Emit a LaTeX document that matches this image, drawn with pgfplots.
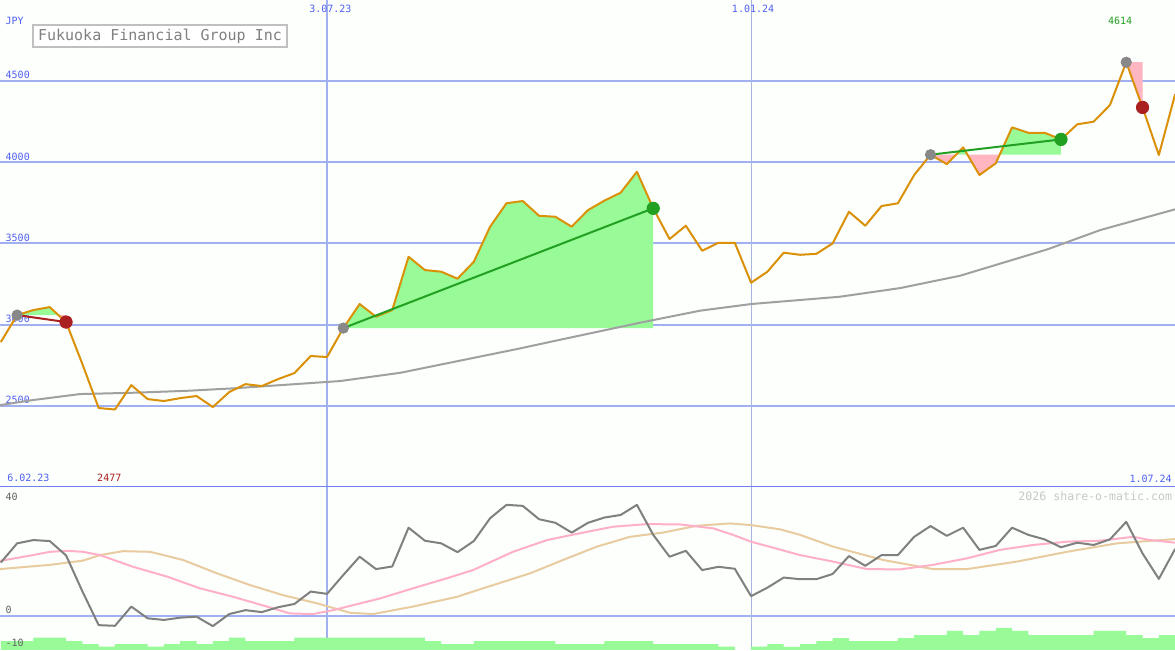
\documentclass[border=0pt]{standalone}
\usepackage{fontspec}
\setmonofont{DejaVu Sans Mono}
\usepackage{pgfplots}
\pgfplotsset{compat=1.18}
\definecolor{bgc}{RGB}{252,255,252}
\definecolor{gridc}{RGB}{160,176,240}
\definecolor{gridd}{RGB}{170,180,225}
\definecolor{sepc}{RGB}{112,128,240}
\definecolor{labc}{RGB}{80,96,240}
\definecolor{pricec}{RGB}{218,145,8}
\definecolor{mac}{RGB}{160,160,160}
\definecolor{gfill}{RGB}{152,251,152}
\definecolor{pfill}{RGB}{255,182,193}
\definecolor{gline}{RGB}{34,160,34}
\definecolor{rline}{RGB}{170,32,32}
\definecolor{dotg}{RGB}{136,136,136}
\definecolor{oscc}{RGB}{128,128,128}
\definecolor{pinkc}{RGB}{255,176,200}
\definecolor{tanc}{RGB}{232,204,160}
\definecolor{titc}{RGB}{128,128,128}
\definecolor{boxc}{RGB}{192,192,192}
\definecolor{wmc}{RGB}{200,200,200}
\definecolor{lowlab}{RGB}{96,96,96}
\newcommand\tf{\ttfamily\fontsize{5}{6}\selectfont}
\tikzset{lab/.style={inner sep=0pt, outer sep=0pt, font=\tf}}
\pgfplotsset{
  common/.style={
    scale only axis, width=587.5pt,
    xmin=-0.05, xmax=71.99,
    axis line style={draw=none}, tick style={draw=none},
    xticklabels={}, yticklabels={}, extra x tick labels={},
    axis background/.style={fill=bgc},
    xtick={20}, extra x ticks={46},
    extra x tick style={grid=major, grid style={gridd, line width=0.5pt}},
    grid=major, grid style={gridc, line width=1pt},
  }
}
\begin{document}
\begin{tikzpicture}
% ---------------- main price panel ----------------
\begin{axis}[common, at={(0,0)}, anchor=south west, height=243.5pt,
  ymin=2000, ymax=4997, ytick={2500,3000,3500,4000,4500}]
\node[lab, anchor=west, text=labc] at (axis cs:0.3,4867) {JPY};
\node[lab, anchor=west, text=labc] at (axis cs:0.3,4534) {4500};
\node[lab, anchor=west, text=labc] at (axis cs:0.3,4034) {4000};
\node[lab, anchor=west, text=labc] at (axis cs:0.3,3534) {3500};
\node[lab, anchor=west, text=labc] at (axis cs:0.3,3034) {3000};
\node[lab, anchor=west, text=labc] at (axis cs:0.3,2534) {2500};
\node[lab, text=labc] at (axis cs:20.21,4943) {3.07.23};
\node[lab, text=labc] at (axis cs:46.12,4943) {1.01.24};
\node[lab, text=gline] at (axis cs:68.62,4867) {4614};
\node[lab, text=labc] at (axis cs:1.69,2055) {6.02.23};
\node[lab, text=rline] at (axis cs:6.65,2055) {2477};
\node[lab, anchor=east, text=labc] at (axis cs:71.79,2051) {1.07.24};
\node[draw=boxc, line width=1pt, fill=white, minimum width=127pt, minimum height=11pt, inner sep=0pt,
  text=titc, font=\ttfamily\fontsize{7.5}{9}\selectfont] at (axis cs:9.76,4775) {Fukuoka Financial Group Inc};
% trade fills
\addplot[fill=gfill, draw=none] coordinates {(1,3058)(2,3089)(3,3107)(3.53,3058)};
\addplot[fill=pfill, draw=none] coordinates {(3.53,3058)(4,3015)(4,3058)};
\addplot[fill=gfill, draw=none] coordinates {(21,2978)(22,3126)(23,3048)(24,3089)(25,3417)(26,3335)(27,3325)(28,3282)(29,3386)(30,3602)(31,3746)(32,3760)(33,3669)(34,3663)(35,3602)(36,3704)(37,3762)(38,3811)(39,3940)(40,3715)(40,2978)};
\addplot[fill=pfill, draw=none] coordinates {(57,4045)(58,3987)(58.56,4045)};
\addplot[fill=gfill, draw=none] coordinates {(58.56,4045)(59,4090)(59.26,4045)};
\addplot[fill=pfill, draw=none] coordinates {(59.26,4045)(60,3920)(61,3992)(61.24,4045)};
\addplot[fill=gfill, draw=none] coordinates {(61.24,4045)(62,4213)(63,4180)(64,4180)(65,4139)(65,4045)};
\addplot[fill=pfill, draw=none] coordinates {(69,4614)(70,4336)(70,4614)};
% moving average
\addplot[mac, line width=1pt] coordinates {(-0.05,2504)(1.97,2535)(4.86,2572)(8.1,2580)(11.42,2592)(14.24,2607)(20.8,2652)(24.5,2703)(31.65,2849)(34.47,2910)(39.19,3011)(41.03,3048)(42.87,3085)(46.0,3126)(51.45,3171)(55.13,3224)(58.81,3300)(64.15,3462)(67.4,3581)(72.0,3709)};
% price
\addplot[pricec, line width=1pt, line join=round] coordinates {(0,2892)(1,3058)(2,3089)(3,3107)(4,3015)(5,2757)(6,2486)(7,2477)(8,2627)(9,2541)(10,2529)(11,2547)(12,2560)(13,2492)(14,2584)(15,2633)(16,2621)(17,2664)(18,2701)(19,2806)(20,2800)(21,2978)(22,3126)(23,3048)(24,3089)(25,3417)(26,3335)(27,3325)(28,3282)(29,3386)(30,3602)(31,3746)(32,3760)(33,3669)(34,3663)(35,3602)(36,3704)(37,3762)(38,3811)(39,3940)(40,3715)(41,3526)(42,3608)(43,3454)(44,3503)(45,3503)(46,3257)(47,3325)(48,3442)(49,3429)(50,3435)(51,3499)(52,3694)(53,3608)(54,3729)(55,3746)(56,3920)(57,4045)(58,3987)(59,4090)(60,3920)(61,3992)(62,4213)(63,4180)(64,4180)(65,4139)(66,4232)(67,4248)(68,4350)(69,4614)(70,4336)(71,4043)(72,4418)};
% trade lines
\addplot[rline, line width=1pt] coordinates {(1,3058)(4,3015)};
\addplot[gline, line width=1pt] coordinates {(21,2978)(40,3715)};
\addplot[gline, line width=1pt] coordinates {(57,4045)(65,4139)};
% dots
\addplot[color=dotg, only marks, mark=*, mark size=2.6pt] coordinates {(1,3058)(21,2978)(57,4045)(69,4614)};
\addplot[color=gline, only marks, mark=*, mark size=3.1pt] coordinates {(40,3715)(65,4139)};
\addplot[color=rline, only marks, mark=*, mark size=3.1pt] coordinates {(4,3015)(70,4336)};
\draw[sepc, line width=1pt] (axis cs:-0.05,2001.4) -- (axis cs:71.99,2001.4);
\end{axis}
% ---------------- lower indicator panel ----------------
\begin{axis}[common, at={(0,0)}, anchor=north west, height=81.5pt,
  ymin=-10.52, ymax=39.48, ytick={0}]
% volume
\addplot[const plot, fill=gfill, draw=none] coordinates {(0,-12)(0,-7.76)(1,-7.76)(2,-6.75)(3,-6.75)(4,-7.76)(5,-8.68)(6,-9.51)(7,-8.68)(8,-8.68)(9,-9.51)(10,-8.68)(11,-7.76)(12,-8.68)(13,-7.76)(14,-6.75)(15,-7.76)(16,-7.76)(17,-7.76)(18,-6.75)(19,-6.75)(20,-6.75)(21,-6.75)(22,-6.75)(23,-6.75)(24,-6.75)(25,-6.75)(26,-7.76)(27,-8.68)(28,-8.68)(29,-7.76)(30,-7.76)(31,-7.76)(32,-7.76)(33,-7.76)(34,-8.68)(35,-8.68)(36,-8.68)(37,-7.76)(38,-7.76)(39,-7.76)(40,-8.68)(41,-8.68)(42,-8.68)(43,-8.68)(44,-9.51)(45,-12)(46,-9.51)(47,-8.68)(48,-9.60)(49,-8.68)(50,-7.76)(51,-6.84)(52,-7.76)(53,-7.76)(54,-7.76)(55,-6.84)(56,-5.92)(57,-5.92)(58,-4.69)(59,-5.92)(60,-4.69)(61,-3.77)(62,-4.69)(63,-5.92)(64,-5.92)(65,-5.92)(66,-5.92)(67,-4.69)(68,-4.69)(69,-5.92)(70,-6.84)(71,-5.92)(72,-12)};
\node[lab, anchor=west, text=lowlab] at (axis cs:0.3,36.6) {40};
\node[lab, anchor=west, text=lowlab] at (axis cs:0.3,1.75) {0};
\node[lab, anchor=west, text=lowlab] at (axis cs:0.3,-8.28) {-10};
\node[lab, anchor=east, text=wmc, font=\ttfamily\fontsize{5.8}{7}\selectfont] at (axis cs:71.81,36.8) {2026 share-o-matic.com};
% slow signal (tan)
\addplot[tanc, line width=1pt] coordinates {(-0.05,14.3)(3.02,15.6)(5.04,16.9)(6.08,18.6)(7.49,19.8)(9.15,19.6)(11.17,17.1)(13.25,13.0)(15.28,9.4)(17.30,6.3)(19.39,3.8)(21.41,0.9)(22.82,0.5)(25.27,2.8)(27.97,5.8)(29.38,8.1)(32.45,13.0)(34.47,17.1)(36.55,21.2)(38.58,24.2)(40.60,25.5)(42.69,27.6)(44.71,28.3)(46.00,27.8)(47.77,26.5)(49.00,24.8)(51.02,21.2)(54.09,17.1)(57.15,14.3)(59.24,14.3)(62.30,16.6)(65.37,19.6)(68.44,22.2)(71.99,23.5)};
% fast signal (pink)
\addplot[pinkc, line width=1pt] coordinates {(-0.05,16.8)(1.97,18.6)(3.02,19.6)(4.06,19.9)(5.04,19.6)(6.08,18.6)(8.11,15.0)(10.19,12.0)(12.21,8.4)(14.24,5.8)(16.32,2.8)(17.73,0.7)(19.14,0.5)(20.37,1.7)(22.45,4.3)(23.25,5.3)(25.27,8.4)(27.36,11.5)(28.95,14.0)(31.40,19.6)(33.49,23.2)(35.51,25.3)(37.54,27.3)(39.62,28.1)(41.64,28.0)(43.67,26.8)(44.89,24.8)(46.00,22.7)(49.00,18.6)(51.02,16.6)(53.11,14.3)(55.13,14.2)(57.15,15.6)(59.24,17.6)(61.26,20.2)(63.29,21.7)(65.37,22.7)(67.39,23.0)(69.42,24.2)(70.46,23.2)(71.99,22.4)};
% oscillator
\addplot[oscc, line width=1pt, line join=round] coordinates {(0,16.3)(1,22.2)(2,23.2)(3,22.9)(4,18.5)(5,7.5)(6,-2.9)(7,-3.1)(8,2.8)(9,-0.8)(10,-1.3)(11,-0.6)(12,-0.3)(13,-3.2)(14,0.5)(15,1.7)(16,1.1)(17,2.6)(18,3.6)(19,7.4)(20,6.7)(21,12.5)(22,18.1)(23,14.3)(24,15.1)(25,27.0)(26,23.0)(27,22.2)(28,19.5)(29,22.9)(30,29.9)(31,34.0)(32,33.7)(33,29.6)(34,28.5)(35,25.5)(36,28.5)(37,30.1)(38,30.9)(39,34.0)(40,24.8)(41,18.1)(42,19.9)(43,14.0)(44,15.0)(45,14.4)(46,6.0)(47,8.6)(48,11.7)(49,11.2)(50,11.2)(51,12.8)(52,18.3)(53,15.3)(54,18.6)(55,18.6)(56,24.2)(57,27.5)(58,24.5)(59,27.0)(60,20.2)(61,21.4)(62,27.0)(63,24.8)(64,23.4)(65,21.0)(66,22.4)(67,21.7)(68,23.4)(69,28.8)(70,19.1)(71,11.3)(72,20.5)};
\end{axis}
\pgfresetboundingbox
\path[use as bounding box] (0,-81.5pt) rectangle (587.5pt,243.5pt);
\end{tikzpicture}
\end{document}
